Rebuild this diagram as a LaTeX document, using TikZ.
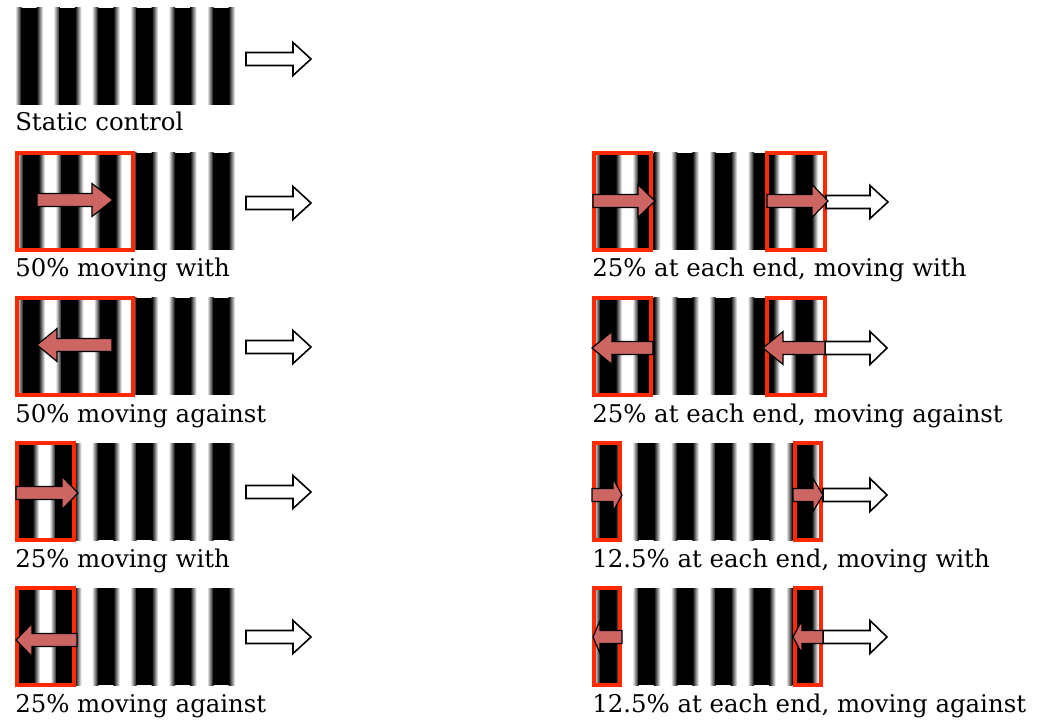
\documentclass[tikz,border=0pt]{standalone}
\usepackage{fontspec}
\setmainfont{DejaVu Serif}
\usepackage{tikz}
\definecolor{rouge}{HTML}{FF2A00}
\definecolor{saumon}{HTML}{CD6662}

% one blurred bar: #1 left x, #2 top y
\newcommand{\stripebar}[2]{%
  \shade[left color=white,right color=black] (#1,#2) rectangle (#1+6.5,#2+97);
  \fill[black] (#1+6,#2) rectangle (#1+22,#2+97);
  \shade[left color=black,right color=white] (#1+21.5,#2) rectangle (#1+28,#2+97);}
% grating clipped to [#1,#2], top #3, bars from origin #4
\newcommand{\gratingbars}[4]{%
  \begin{scope}
    \clip (#1,#3) rectangle (#2,#3+97);
    \fill[white] (#1,#3) rectangle (#2,#3+97);
    \foreach \i in {-1,...,6}{\stripebar{#4+\i*38.4}{#3}}
  \end{scope}}
% block arrow: tail x, head base x, tip x, centre y
\newcommand{\blockarr}[5][]{%
  \draw[#1] (#2,#5-6.5) -- (#3,#5-6.5) -- (#3,#5-16.5) -- (#4,#5) -- (#3,#5+16.5) -- (#3,#5+6.5) -- (#2,#5+6.5) -- cycle;}

\begin{document}
\begin{tikzpicture}[x=0.75pt,y=-0.75pt,
  fen/.style={draw=rouge,line width=3.5pt},
  mv/.style={fill=saumon,draw=black,line width=0.9pt,line join=miter},
  dir/.style={fill=white,draw=black,line width=1.2pt,line join=miter},
  lab/.style={font=\fontsize{18.3}{22}\selectfont,anchor=base west,inner sep=0pt}]
  \useasboundingbox (0,0) rectangle (1042,723);
  % ---- static control
  \gratingbars{15}{235}{8}{15}
  \blockarr[dir]{246}{293}{311}{59}
  \node[lab] (t1) at (15,131) {Static control};
  % ---- 50% moving with
  \gratingbars{15}{235}{153}{15}
  \gratingbars{17}{133}{153}{17}
  \draw[fen] (17,153) rectangle (133,250);
  \blockarr[mv]{37}{92}{113}{200}
  \blockarr[dir]{246}{293}{311}{203}
  \node[lab] (t2) at (15,277) {50\% moving with};
  % ---- 50% moving against
  \gratingbars{15}{235}{298}{15}
  \gratingbars{17}{133}{298}{17}
  \draw[fen] (17,298) rectangle (133,395);
  \blockarr[mv]{112}{57}{37}{345}
  \blockarr[dir]{246}{293}{311}{347}
  \node[lab] (t3) at (15,422) {50\% moving against};
  % ---- 25% moving with
  \gratingbars{15}{235}{443}{15}
  \gratingbars{17}{74}{443}{11}
  \draw[fen] (17,443) rectangle (74,540);
  \blockarr[mv]{16}{62}{78}{493}
  \blockarr[dir]{246}{293}{311}{492}
  \node[lab] (t4) at (15,567) {25\% moving with};
  % ---- 25% moving against
  \gratingbars{15}{235}{588}{15}
  \gratingbars{17}{74}{588}{12}
  \draw[fen] (17,588) rectangle (74,685);
  \blockarr[mv]{77}{32}{16}{640}
  \blockarr[dir]{246}{293}{311}{637}
  \node[lab] (t5) at (15,712) {25\% moving against};
  % ---- 25% at each end, moving with
  \gratingbars{594}{825}{153}{594}
  \gratingbars{594}{651}{153}{594}
  \gratingbars{767}{825}{153}{598}
  \draw[fen] (594,153) rectangle (651,250);
  \draw[fen] (767,153) rectangle (825,250);
  \blockarr[dir]{826}{870}{888}{202}
  \blockarr[mv]{593}{638}{655}{201}
  \blockarr[mv]{767}{812}{828}{201}
  \node[lab] (r2) at (592,277) {25\% at each end, moving with};
  % ---- 25% at each end, moving against
  \gratingbars{594}{825}{298}{594}
  \gratingbars{594}{651}{298}{594}
  \gratingbars{767}{825}{298}{598}
  \draw[fen] (594,298) rectangle (651,395);
  \draw[fen] (767,298) rectangle (825,395);
  \blockarr[dir]{825}{870}{887}{348}
  \blockarr[mv]{653}{612}{592}{348}
  \blockarr[mv]{825}{783}{763}{348}
  \node[lab] (r3) at (592,422) {25\% at each end, moving against};
  % ---- 12.5% at each end, moving with
  \gratingbars{594}{825}{443}{594}
  \gratingbars{594}{620}{443}{594}
  \gratingbars{795}{821}{443}{790}
  \draw[fen] (594,443) rectangle (620,540);
  \draw[fen] (795,443) rectangle (821,540);
  \blockarr[dir]{823}{870}{887}{495}
  \blockarr[mv]{592}{613}{622}{495}
  \blockarr[mv]{793}{813}{823}{495}
  \node[lab] (r4) at (592,567) {12.5\% at each end, moving with};
  % ---- 12.5% at each end, moving against
  \gratingbars{594}{825}{588}{594}
  \gratingbars{594}{620}{588}{594}
  \gratingbars{795}{821}{588}{790}
  \draw[fen] (594,588) rectangle (620,685);
  \draw[fen] (795,588) rectangle (821,685);
  \blockarr[dir]{823}{870}{887}{637}
  \blockarr[mv]{622}{600}{593}{637}
  \blockarr[mv]{823}{802}{793}{637}
  \node[lab] (r5) at (592,712) {12.5\% at each end, moving against};
\end{tikzpicture}
\end{document}
